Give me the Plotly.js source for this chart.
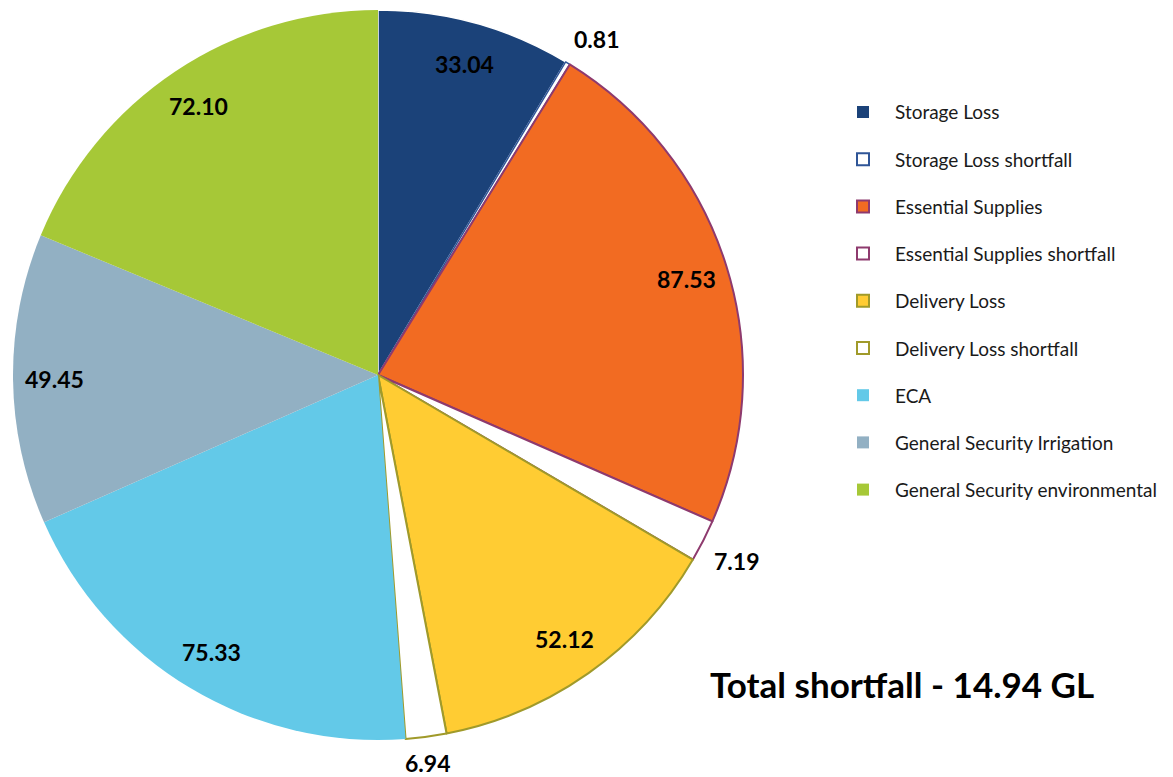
<!DOCTYPE html>
<html>
<head>
<meta charset="utf-8">
<script src="https://cdn.plot.ly/plotly-3.0.1.min.js"></script>
<style>html,body{margin:0;padding:0;background:#fff;}#chart{width:1173px;height:777px;}</style>
</head>
<body>
<div id="chart"></div>
<script>
const categories = ["Storage Loss","Storage Loss shortfall","Essential Supplies","Essential Supplies shortfall","Delivery Loss","Delivery Loss shortfall","ECA","General Security Irrigation","General Security environmental"];
const values = [33.04, 0.81, 87.53, 7.19, 52.12, 6.94, 75.33, 49.45, 72.10];
const fillColors = ["#1B4279","#FFFFFF","#F26B22","#FFFFFF","#FFCC33","#FFFFFF","#63C9E8","#92B0C3","#A6C837"];
const lineColors = ["#FFFFFF","#2F5597","#8E3A6E","#8E3A6E","#A09A2A","#A09A2A","#FFFFFF","#FFFFFF","#FFFFFF"];
const lineWidths = [1.5, 1.5, 2, 2, 2, 2, 0, 0, 0];
const labelOutside = [false, true, false, true, false, true, false, false, false];
const totalLabel = "Total shortfall - 14.94 GL";

const FONT = "Lato, 'Open Sans', sans-serif";
const W = 1173, H = 777;
// pie geometry (layout)
const CX = 378, CY = 375, R = 365;

const trace = {
  type: "pie",
  labels: categories,
  values: values,
  sort: false,
  direction: "clockwise",
  rotation: 0,
  marker: {colors: fillColors, line: {color: lineColors, width: lineWidths}},
  textinfo: "none",
  hoverinfo: "label+value",
  domain: {x: [(CX - R) / W, (CX + R) / W], y: [1 - (CY + R) / H, 1 - (CY - R) / H]},
  showlegend: false
};

const shapes = [];
const annotations = [];

// data labels placed at each slice's mid-angle, computed from the values
const total = values.reduce((a, b) => a + b, 0);
let cum = 0;
values.forEach((v, i) => {
  const mid = (cum + v / 2) / total * 2 * Math.PI;
  cum += v;
  const s = Math.sin(mid), c = Math.cos(mid);
  let xa = "center", ya = "middle", rf = 0.885;
  if (labelOutside[i]) {
    rf = 1.03;
    xa = Math.abs(s) < 0.3 ? "center" : (s > 0 ? "left" : "right");
    ya = c > 0 ? "bottom" : "top";
  }
  const px = CX + R * rf * s;
  const py = CY - R * rf * c;
  annotations.push({
    xref: "paper", yref: "paper", x: px / W, y: 1 - py / H,
    xanchor: xa, yanchor: ya, showarrow: false, borderpad: 0,
    text: "<b>" + v.toFixed(2) + "</b>",
    font: {family: FONT, size: 23, color: "#000"}
  });
});

// manual legend built from the category arrays
const legX0 = 857, legX1 = 869, legTextX = 893, legY0 = 112, legStep = 47.2;
categories.forEach((c, i) => {
  const yc = legY0 + i * legStep;
  const filledOnly = (i === 0 || i >= 6);
  shapes.push({
    type: "rect", xref: "paper", yref: "paper",
    x0: legX0 / W, x1: legX1 / W, y0: 1 - (yc + 6) / H, y1: 1 - (yc - 6) / H,
    fillcolor: fillColors[i],
    line: {color: filledOnly ? fillColors[i] : lineColors[i], width: filledOnly ? 0 : 2}
  });
  annotations.push({
    xref: "paper", yref: "paper", x: legTextX / W, y: 1 - yc / H,
    xanchor: "left", yanchor: "middle", showarrow: false,
    text: c, font: {family: FONT, size: 19, color: "#1a1a1a"}
  });
});
annotations.push({
  xref: "paper", yref: "paper", x: 708 / W, y: 1 - 684 / H,
  xanchor: "left", yanchor: "middle", showarrow: false,
  text: "<b>" + totalLabel + "</b>", font: {family: FONT, size: 35, color: "#000"}
});

const layout = {
  width: W, height: H,
  margin: {l: 0, r: 0, t: 0, b: 0},
  paper_bgcolor: "#fff",
  showlegend: false,
  shapes: shapes,
  annotations: annotations
};

Plotly.newPlot("chart", [trace], layout, {displayModeBar: false, staticPlot: true});
</script>
</body>
</html>
